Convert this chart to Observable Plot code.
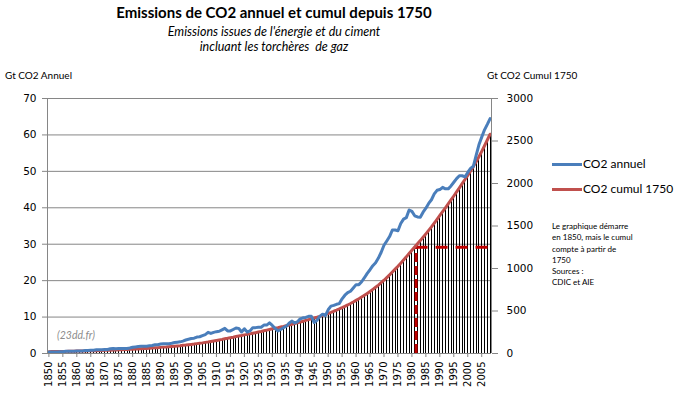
<!DOCTYPE html>
<html><head><meta charset="utf-8">
<script src="https://cdn.jsdelivr.net/npm/d3@7"></script>
<script src="https://cdn.jsdelivr.net/npm/@observablehq/plot@0.6"></script>
<style>
body{margin:0;background:#fff}
#wrap{position:relative;width:676px;height:395px;overflow:hidden;background:#fff}
#chart{position:absolute;left:0;top:0}
.t{position:absolute;white-space:nowrap;font-family:Lato,"Open Sans",sans-serif;color:#000}
</style></head><body>
<div id="wrap">
<div id="chart"></div>
<div class="t" style="left:0;width:548px;text-align:center;top:4px;font-weight:bold;font-size:15px;line-height:17px">Emissions de CO2 annuel et cumul depuis 1750</div>
<div class="t" style="left:0;width:548px;text-align:center;top:25px;font-style:italic;font-size:12.5px;line-height:14px">Emissions issues de l'énergie et du ciment</div>
<div class="t" style="left:0;width:548px;text-align:center;top:40px;font-style:italic;font-size:12.5px;line-height:14px">incluant les torchères&nbsp; de gaz</div>
<div class="t" style="left:5px;top:69px;font-size:10px;line-height:12px">Gt CO2 Annuel</div>
<div class="t" style="left:487px;top:69px;font-size:10px;line-height:12px">Gt CO2 Cumul 1750</div>
<div class="t" style="left:552px;top:156px;font-size:12px;line-height:16px"><span style="display:inline-block;width:30px;height:3px;background:#4A7EBB;vertical-align:middle;margin-right:1px"></span>CO2 annuel</div>
<div class="t" style="left:552px;top:181px;font-size:12px;line-height:16px"><span style="display:inline-block;width:30px;height:3px;background:#C0504D;vertical-align:middle;margin-right:1px"></span>CO2 cumul 1750</div>
<div class="t" style="left:552px;top:221px;font-size:8px;line-height:11.3px">Le graphique démarre<br>en 1850, mais le cumul<br>compte à partir de<br>1750<br>Sources :<br>CDIC et AIE</div>
<div class="t" style="left:57px;top:329px;font-size:10.5px;line-height:13px;font-style:italic;color:#8c8c8c">(23dd.fr)</div>
</div>
<script>
// Categories: years 1850..2008
const years = d3.range(1850, 2009);
// Annual emissions, Gt CO2 (left axis)
const annual = [
 0.4,0.4,0.4,0.4,0.5,0.5,0.6,0.6,0.6,0.6,
 0.7,0.7,0.7,0.8,0.8,0.9,0.9,1.0,1.0,1.0,
 1.1,1.1,1.3,1.4,1.3,1.4,1.4,1.4,1.4,1.5,
 1.7,1.8,1.9,2.0,2.0,2.0,2.1,2.2,2.4,2.4,
 2.6,2.7,2.7,2.7,2.8,3.0,3.1,3.2,3.4,3.7,
 3.9,4.1,4.2,4.5,4.6,4.9,5.2,5.8,5.5,5.8,
 6.0,6.1,6.5,6.9,6.2,6.2,6.6,7.0,6.9,5.9,
 6.8,5.9,6.2,7.1,7.1,7.2,7.2,7.8,7.8,8.4,
 7.7,6.9,6.2,6.6,7.1,7.5,8.3,8.9,8.4,8.7,
 9.5,9.8,9.9,10.2,10.2,8.5,9.1,10.2,10.8,10.4,
 12.0,13.0,13.2,13.5,13.7,15.0,16.0,16.7,17.1,18.0,
 18.9,18.9,19.7,20.8,22.0,23.0,24.1,24.9,26.2,27.8,
 29.7,30.9,32.1,33.9,33.9,33.7,35.7,36.9,37.3,39.4,
 39.0,37.8,37.5,37.4,38.8,39.9,41.2,42.2,43.8,44.8,
 45.0,45.6,45.2,45.2,46.0,47.0,48.0,48.8,48.8,48.5,
 49.7,50.8,51.4,54.4,57.3,59.4,61.4,62.9,64.5
];
// Cumulative emissions since 1750, Gt CO2 (right axis)
const cumul = [
 22,23,23,24,24,25,25,26,26,27,
 28,28,29,30,31,32,32,33,34,35,
 37,38,39,40,42,43,44,46,47,49,
 50,52,54,56,58,60,62,64,67,69,
 72,75,77,80,83,86,89,92,96,99,
 103,107,111,116,121,125,131,136,142,148,
 154,160,166,173,179,186,192,199,206,212,
 219,225,231,238,245,252,259,267,275,283,
 291,298,304,311,318,326,334,343,351,360,
 369,379,389,399,409,418,427,437,448,458,
 470,483,497,510,524,539,555,571,588,606,
 625,644,664,685,707,730,754,779,805,833,
 862,893,925,959,993,1027,1063,1100,1137,1176,
 1215,1253,1291,1328,1367,1407,1448,1490,1534,1579,
 1624,1669,1714,1760,1806,1853,1901,1949,1998,2047,
 2096,2147,2199,2255,2315,2378,2444,2512,2580
];
// Tick labels
const xTicks = [1850,1855,1860,1865,1870,1875,1880,1885,1890,1895,1900,1905,1910,1915,1920,1925,1930,1935,1940,1945,1950,1955,1960,1965,1970,1975,1980,1985,1990,1995,2000,2005];
const leftTicks = [0,10,20,30,40,50,60,70];
const rightTicks = [0,500,1000,1500,2000,2500,3000];
// Half-way marker (year, cumulative Gt CO2)
const halfYear = 1981.5;
const halfCumul = 1250;

const leftMax = 70, rightMax = 3000;
const k = leftMax / rightMax;
const rows = years.map((y, i) => ({year: y, annual: annual[i], cumul: cumul[i] * k}));
const x0 = years[0] - 0.5, x1 = years[years.length - 1] + 0.5;
const grey = "#868686";

const chart = Plot.plot({
  width: 676, height: 395,
  marginLeft: 47, marginRight: 185, marginTop: 98, marginBottom: 42,
  x: {type: "linear", domain: [x0, x1]},
  y: {domain: [0, leftMax]},
  style: {fontFamily: "DejaVu Sans", fontSize: "10px", color: "#000", background: "transparent"},
  marks: [
    Plot.gridY(leftTicks, {stroke: grey, strokeOpacity: 1}),
    Plot.ruleX(rows, {x: "year", y1: 0, y2: "cumul", stroke: "#000", strokeWidth: 1, shapeRendering: "crispEdges"}),
    Plot.ruleX([halfYear], {y1: 0, y2: halfCumul * k, stroke: "#C00000", strokeWidth: 3, strokeDasharray: "9,4"}),
    Plot.ruleY([halfCumul * k], {x1: halfYear, x2: x1, stroke: "#C00000", strokeWidth: 3, strokeDasharray: "12,8"}),
    Plot.line(rows, {x: "year", y: "cumul", stroke: "#C0504D", strokeWidth: 3}),
    Plot.line(rows, {x: "year", y: "annual", stroke: "#4A7EBB", strokeWidth: 3}),
    Plot.ruleX([x0, x1], {stroke: grey}),
    Plot.ruleY([0], {stroke: grey}),
    Plot.axisY(leftTicks, {anchor: "left", tickSize: 5, tickPadding: 6, stroke: grey, fill: "#000", fontSize: 10.5, label: null}),
    Plot.axisY(rightTicks.map(v => v * k), {anchor: "right", tickSize: 6, tickPadding: 9, stroke: grey, fill: "#000", fontSize: 10.5, tickFormat: d => String(Math.round(d / k)), label: null}),
    Plot.axisX(xTicks, {anchor: "bottom", tickRotate: -90, tickSize: 4, tickPadding: 4, stroke: grey, fill: "#000", fontSize: 10, tickFormat: d => String(d), label: null})
  ]
});
document.getElementById("chart").appendChild(chart);
</script>
</body></html>
